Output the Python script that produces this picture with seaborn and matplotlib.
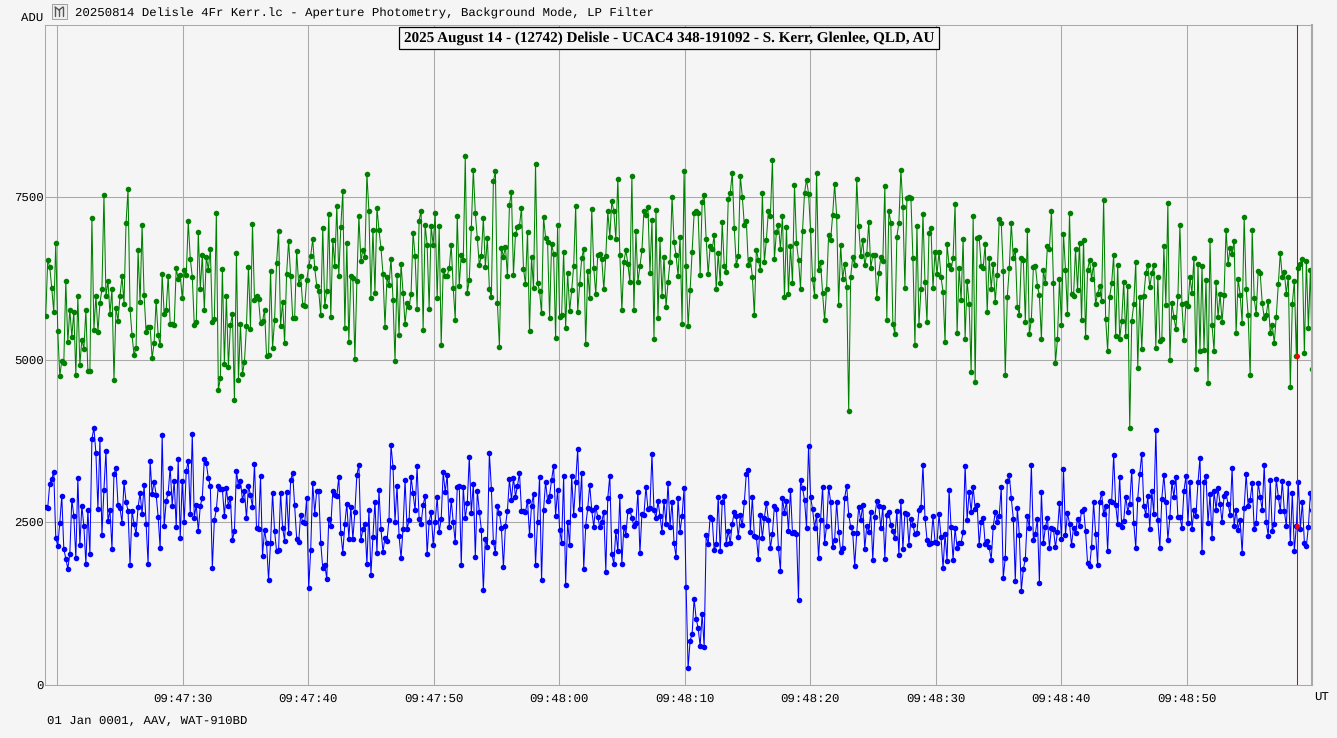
import numpy as np
import pandas as pd
import matplotlib
matplotlib.use("Agg")
import matplotlib.pyplot as plt
from matplotlib.patches import Rectangle
from matplotlib.lines import Line2D
import seaborn as sns

green_adu = [
5670,6530,6424,6100,5732,6793,5434,4747,4983,4942,6209,5265,5768,5352,5732,4763,5978,4917,5306,5163,5757,4819,4819,7183,5455,5983,5419,5870,6080,7526,
5973,6209,5706,6085,4681,5800,5598,5978,6280,5860,7096,7618,5773,5373,5065,5183,6680,5880,7075,5988,5429,5501,5506,5019,5260,5906,5373,5219,6311,5701,
5757,6291,5542,5540,5532,6403,6234,6296,5947,6372,6296,7126,6552,6275,5532,5573,6957,6080,6614,5757,6583,6383,6701,5573,5624,7249,4527,4717,6398,4937,
5973,4891,5527,5696,4373,6639,4686,5547,4773,4963,5522,6429,5475,7085,5921,
5973,5932,5563,5589,5763,5060,5076,6368,5178,5604,6486,6978,5522,5886,5250,6322,6829,6281,5645,5640,6665,6163,6281,5845,5819,6219,6435,6593,6850,6409,
6132,6050,5681,7029,5819,6060,7245,5655,6840,6440,7363,6291,7040,7593,5486,6788,5271,6291,6260,5009,6209,7204,6522,6686,6578,7855,7280,5953,6998,6030,
7337,6998,6716,6322,5507,6265,6147,6552,5922,4973,6301,5373,6475,6030,5542,5865,5804,6014,6952,6588,5783,7137,7291,5460,7065,6768,5783,7060,6757,7250,
5942,7055,5225,6378,6291,6291,6404,6763,6096,5614,7214,6137,6614,6527,8126,6024,6229,7019,7921,7250,6865,6450,6599,7173,6424,6870,6091,5958,7742,7896,
5871,5199,6722,6578,6737,6286,7373,7578,6306,6927,7040,7055,7332,6394,6158,6963,5440,6573,6101,8003,6178,6055,5712,7188,6875,6814,5640,6778,6624,5332,
7065,5650,5691,6660,5486,6332,5747,6065,6440,7363,5732,6163,6558,6701,5240,6363,5947,7316,6414,6009,6614,6624,
6542,6081,6593,7280,6891,7434,7286,6855,7783,6614,5758,6501,6681,6470,6194,7829,5763,6973,6188,6435,6681,7286,7229,7342,6327,7147,5312,7306,5635,6850,
5983,6583,5804,6194,6506,7506,6814,6604,6291,6891,5548,7906,6435,5512,6065,6655,7250,7286,7250,6306,7419,7532,6850,6311,6747,6696,6911,6081,6634,6173,
7111,6440,6347,7470,7557,7875,7019,6455,6588,7824,7506,7075,7127,6450,6547,6276,5681,6691,6532,6373,7562,6501,6845,7286,7214,8065,6542,6968,7070,6706,
7209,5958,7034,6014,6747,6183,7686,6793,6537,6091,6978,7562,7768,7552,6998,6240,5983,7870,6373,6496,6019,5604,6091,6922,6840,7219,7701,7214,5840,6768,
6235,6470,6122,4209,6276,6573,6450,7778,7060,6588,6840,6450,6624,7116,6409,6609,6609,5942,6327,6573,6522,7665,5614,7286,7101,5553,5399,6891,7106,7921,
7352,6101,7491,7506,7480,6558,5219,7060,5537,6081,7245,6188,5578,6952,7024,6096,6660,6317,6660,6270,6035,5266,6778,6450,
6393,6557,7398,5403,6413,5911,6854,5321,6213,5849,4809,7213,4650,6865,6880,6444,6408,6783,5732,6567,6090,6475,5880,6306,7162,7100,6362,4763,5957,6408,
7100,6562,6690,5808,5691,6562,6531,5578,6988,5388,5614,6424,6444,6137,5988,5316,6378,6172,6752,6706,7290,6172,4947,5311,6239,5532,6936,6378,5701,7254,
6003,5973,6701,6070,6793,5609,6839,5342,6378,6531,6244,6470,5855,6014,6131,5901,7459,5629,5132,5967,6172,6613,5368,6460,5316,5598,6193,5368,6131,3947,
5593,5849,6495,4875,5967,5157,5973,6326,6460,6111,6326,6449,5183,6275,5285,5316,6742,5834,7413,4998,5875,5650,5465,5973,7070,5849,5296,5870,5819,6265,
6029,6567,4855,6475,5137,6444,5152,6229,4640,6834,
5532,5132,6193,5655,6013,5572,5998,7000,6465,6721,6618,6829,5403,6244,5998,5562,7200,6090,5680,4757,7000,5942,5696,6367,6326,5870,5644,5685,5906,5408,
5531,5255,5660,6162,6639,6265,6352,6013,6275,4578,5854,6213,5055,6408,6475,6547,5101,6516,5480,6377,4855,
]

blue_adu = [
2733,2717,3086,3163,3271,2256,2133,2487,2902,2087,1938,1779,2010,2846,2594,1948,3179,2153,2748,2435,1856,2687,2010,3779,3948,3558,2702,3773,2302,3000,
3594,2512,2681,2087,3240,3333,2769,2712,2492,3112,2815,2671,1846,2666,2476,2312,2728,2943,2630,3066,2476,1851,3445,2928,3122,2922,2579,2097,3835,2435,
2820,2953,3338,2753,3138,2420,3466,2256,3138,2507,3286,3445,2625,3856,2569,2763,2358,2748,2876,3466,3404,3174,3051,1795,2528,2697,3061,3004,3004,2589,
3020,2748,2876,2220,2364,3292,3051,3133,2835,2979,2558,3061,2912,2738,3399,
2410,2394,3204,1984,2374,2179,1610,2184,2948,2363,2051,2071,2953,2410,2215,2968,2338,3143,3256,2763,2246,2194,2615,2507,2486,2871,1482,2071,3102,2630,
2984,2984,2179,1789,1846,1625,2553,2440,2974,2922,2902,3194,2328,2030,2471,2784,2246,2738,2235,2656,3225,3379,2220,2389,2466,1851,2692,1692,2271,2815,
2025,2989,2389,2040,2261,2215,2538,3686,3343,2507,3061,2292,1943,2399,3153,2389,2528,3194,2943,2681,3358,2553,2476,2758,2907,2005,2497,2656,2153,2497,
2886,2343,2548,3266,2958,3225,2420,2840,2497,2189,3035,3061,1835,3045,2558,2789,3502,2640,3086,1969,2979,2661,2384,1451,2246,2112,3563,3015,2199,2020,
2743,2645,2410,1805,2435,2676,3158,2840,3184,2892,3056,3256,2671,2671,2656,2830,2302,2748,2938,1841,2502,3194,1605,2686,3117,2830,2907,3148,3358,2599,
2994,2384,2184,3204,1538,2502,2143,3209,2604,3112,3625,2697,3256,1784,2440,2712,3071,2681,2430,2738,2579,2420,2502,2656,1738,2871,3215,2010,1856,2363,
2051,2902,1856,2425,2307,2666,2681,2563,2435,2481,2968,2020,2625,2610,3045,2697,2717,
3548,2681,2568,2819,2594,2348,2825,2466,3107,2430,2814,2173,1968,2866,2353,2594,3025,1507,251,676,774,1322,1015,866,594,1092,574,2297,2163,2584,
2543,2066,2163,2886,2050,2809,2902,2163,2358,2184,2476,2655,2589,2266,2604,2450,2804,3245,3301,2348,2881,2286,2271,1938,2609,
2256,2563,2799,2527,2097,2317,2748,2697,2102,1748,2871,2640,2820,2358,2999,2327,2353,2317,1302,3143,3025,2840,2409,3671,2886,2697,2409,2609,1943,2532,
3040,2179,2440,3040,2809,2117,2225,2809,2348,2045,2102,2871,3061,2614,2425,2338,1825,2333,2738,2527,2763,2081,2445,2353,2655,1917,2579,2825,2748,2404,
2738,1938,2609,2655,2450,2358,2250,2676,1994,2830,2081,2640,2620,2148,2553,2461,2312,2338,2681,2727,3373,2568,2230,2163,2179,2589,2194,2179,2620,2271,
1789,2317,1897,2999,2420,1922,2404,2102,2179,2179,2343,3368,2538,2968,2661,3040,2707,2768,2148,2502,2568,2158,2209,2112,1922,2430,2655,2502,2599,3040,
1640,1948,3132,3225,2866,2553,1594,2722,2297,1446,1774,1933,2599,2409,3378,2225,2317,2553,1563,2968,2179,2420,2563,2107,2415,2389,2112,2343,2794,2245,
3317,2307,2640,2476,2148,2415,2333,2548,2445,2671,2702,2363,1866,1825,2117,2804,2312,1840,2804,2948,2620,2753,2056,2830,2804,3532,2763,2476,3199,2420,
2517,2891,2661,2784,3291,2491,2107,2861,3245,3553,2753,2614,2896,2399,2973,2630,3910,2532,2107,2861,3225,2814,2230,2573,3117,2886,3199,2573,2579,2415,
2978,3204,2491,3117,2389,2686,2594,3112,3491,
2035,3112,3214,2481,2927,2255,2973,2691,3024,2778,2496,2906,2942,2773,2614,3327,2435,2691,2384,2532,2025,2712,3245,2742,2840,3096,2399,2481,3101,2891,
2686,3378,2507,2286,3153,2368,2476,3163,2891,2671,3127,2676,2435,3101,2178,2947,2055,2440,3117,2399,2814,2183,2132,2430,2947,2686,
]

y_ticks = [0, 2500, 5000, 7500]
x_tick_seconds = [0, 10, 20, 30, 40, 50, 60, 70, 80, 90, 100]
x_tick_labels = ["", "09:47:30", "09:47:40", "09:47:50", "09:48:00", "09:48:10",
                 "09:48:20", "09:48:30", "09:48:40", "09:48:50", ""]
first_second, last_second = -0.93, 100.0
cursor_second = 98.75
cursor_green, cursor_blue = 5055, 2440

header = "20250814 Delisle 4Fr Kerr.lc - Aperture Photometry, Background Mode, LP Filter"
banner = "2025 August 14 - (12742) Delisle - UCAC4 348-191092 - S. Kerr, Glenlee, QLD, AU"
footer = "01 Jan 0001, AAV, WAT-910BD"

sns.set_theme(style="white")
plt.rcParams["text.hinting"] = "no_hinting"
plt.rcParams["text.hinting_factor"] = 8
BG = "#F5F5F5"
GRID = "#A9A9A9"
W, H = 1337, 738
MONO = "Liberation Mono"
FS = 8.9
fig = plt.figure(figsize=(W / 100, H / 100), dpi=100, facecolor=BG)
ax = fig.add_axes([45.4 / W, 1 - 684.5 / H, 1267 / W, 660 / H], facecolor=BG)


def series_frame(values):
    return pd.DataFrame({"t": np.linspace(first_second, last_second, len(values)), "adu": values})


ax.set_axisbelow(True)
ax.grid(True, color=GRID, lw=0.75)
for values, colour in ((green_adu, "#008000"), (blue_adu, "#0000FF")):
    sns.lineplot(data=series_frame(values), x="t", y="adu", color=colour, marker="o",
                 markersize=4.0, markeredgewidth=0, linewidth=0.75, estimator=None,
                 sort=False, ax=ax, legend=False, zorder=3)

ax.axvline(cursor_second, color="#E00000", lw=0.75, zorder=4)
sns.scatterplot(x=[cursor_second, cursor_second], y=[cursor_green, cursor_blue], color="#FF0000",
                s=13, linewidth=0, ax=ax, legend=False, zorder=5)

ax.set_xlim(-12 / 12.55, 100)
ax.set_ylim(0, 660 * 15.385)
ax.set_xticks(x_tick_seconds)
ax.set_xticklabels(x_tick_labels, family=MONO, fontsize=FS, color="black")
ax.set_yticks(y_ticks)
ax.set_yticklabels([str(v) for v in y_ticks], family=MONO, fontsize=FS, color="black")
ax.tick_params(axis="both", length=0, pad=6)
ax.tick_params(axis="y", pad=1.3)
ax.set_xlabel("")
ax.set_ylabel("")
for name, spine in ax.spines.items():
    spine.set_color(GRID)
    spine.set_linewidth(0.75)
ax.spines["right"].set_linewidth(1.5)
ax.spines["right"].set_zorder(6)


def px(x, y):
    return x / W, 1 - y / H


fig.text(*px(75, 13), header, family=MONO, fontsize=FS, va="center", ha="left", color="black")
fig.text(*px(21, 18.5), "ADU", family=MONO, fontsize=FS, va="center", ha="left", color="black")
fig.text(*px(47, 720.5), footer, family=MONO, fontsize=FS, va="center", ha="left", color="black")
fig.text(*px(1314, 697.5), "UT", family=MONO, fontsize=FS, va="center", ha="left", color="black")
fig.text(*px(669, 38), banner, family="Liberation Serif", fontweight="bold", fontsize=10.9,
         va="center", ha="center", color="black", zorder=10,
         bbox=dict(boxstyle="square,pad=0.3", fc=BG, ec="black", lw=0.9))

# window icon beside the header
fig.add_artist(Rectangle(px(51.5, 18.5), 15 / W, 15 / H, transform=fig.transFigure,
                         fc="#EFEFEF", ec="#A0A0A0", lw=0.7))
for x0, y0, x1, y1 in ((55, 7, 55, 16), (59, 9, 59, 16), (63, 7, 63, 16), (55, 7, 59, 10), (63, 7, 59, 10)):
    fig.add_artist(Line2D([x0 / W, x1 / W], [1 - y0 / H, 1 - y1 / H], transform=fig.transFigure,
                          color="#555555", lw=1.0))

fig.savefig("out.png", dpi=100, facecolor=BG)
